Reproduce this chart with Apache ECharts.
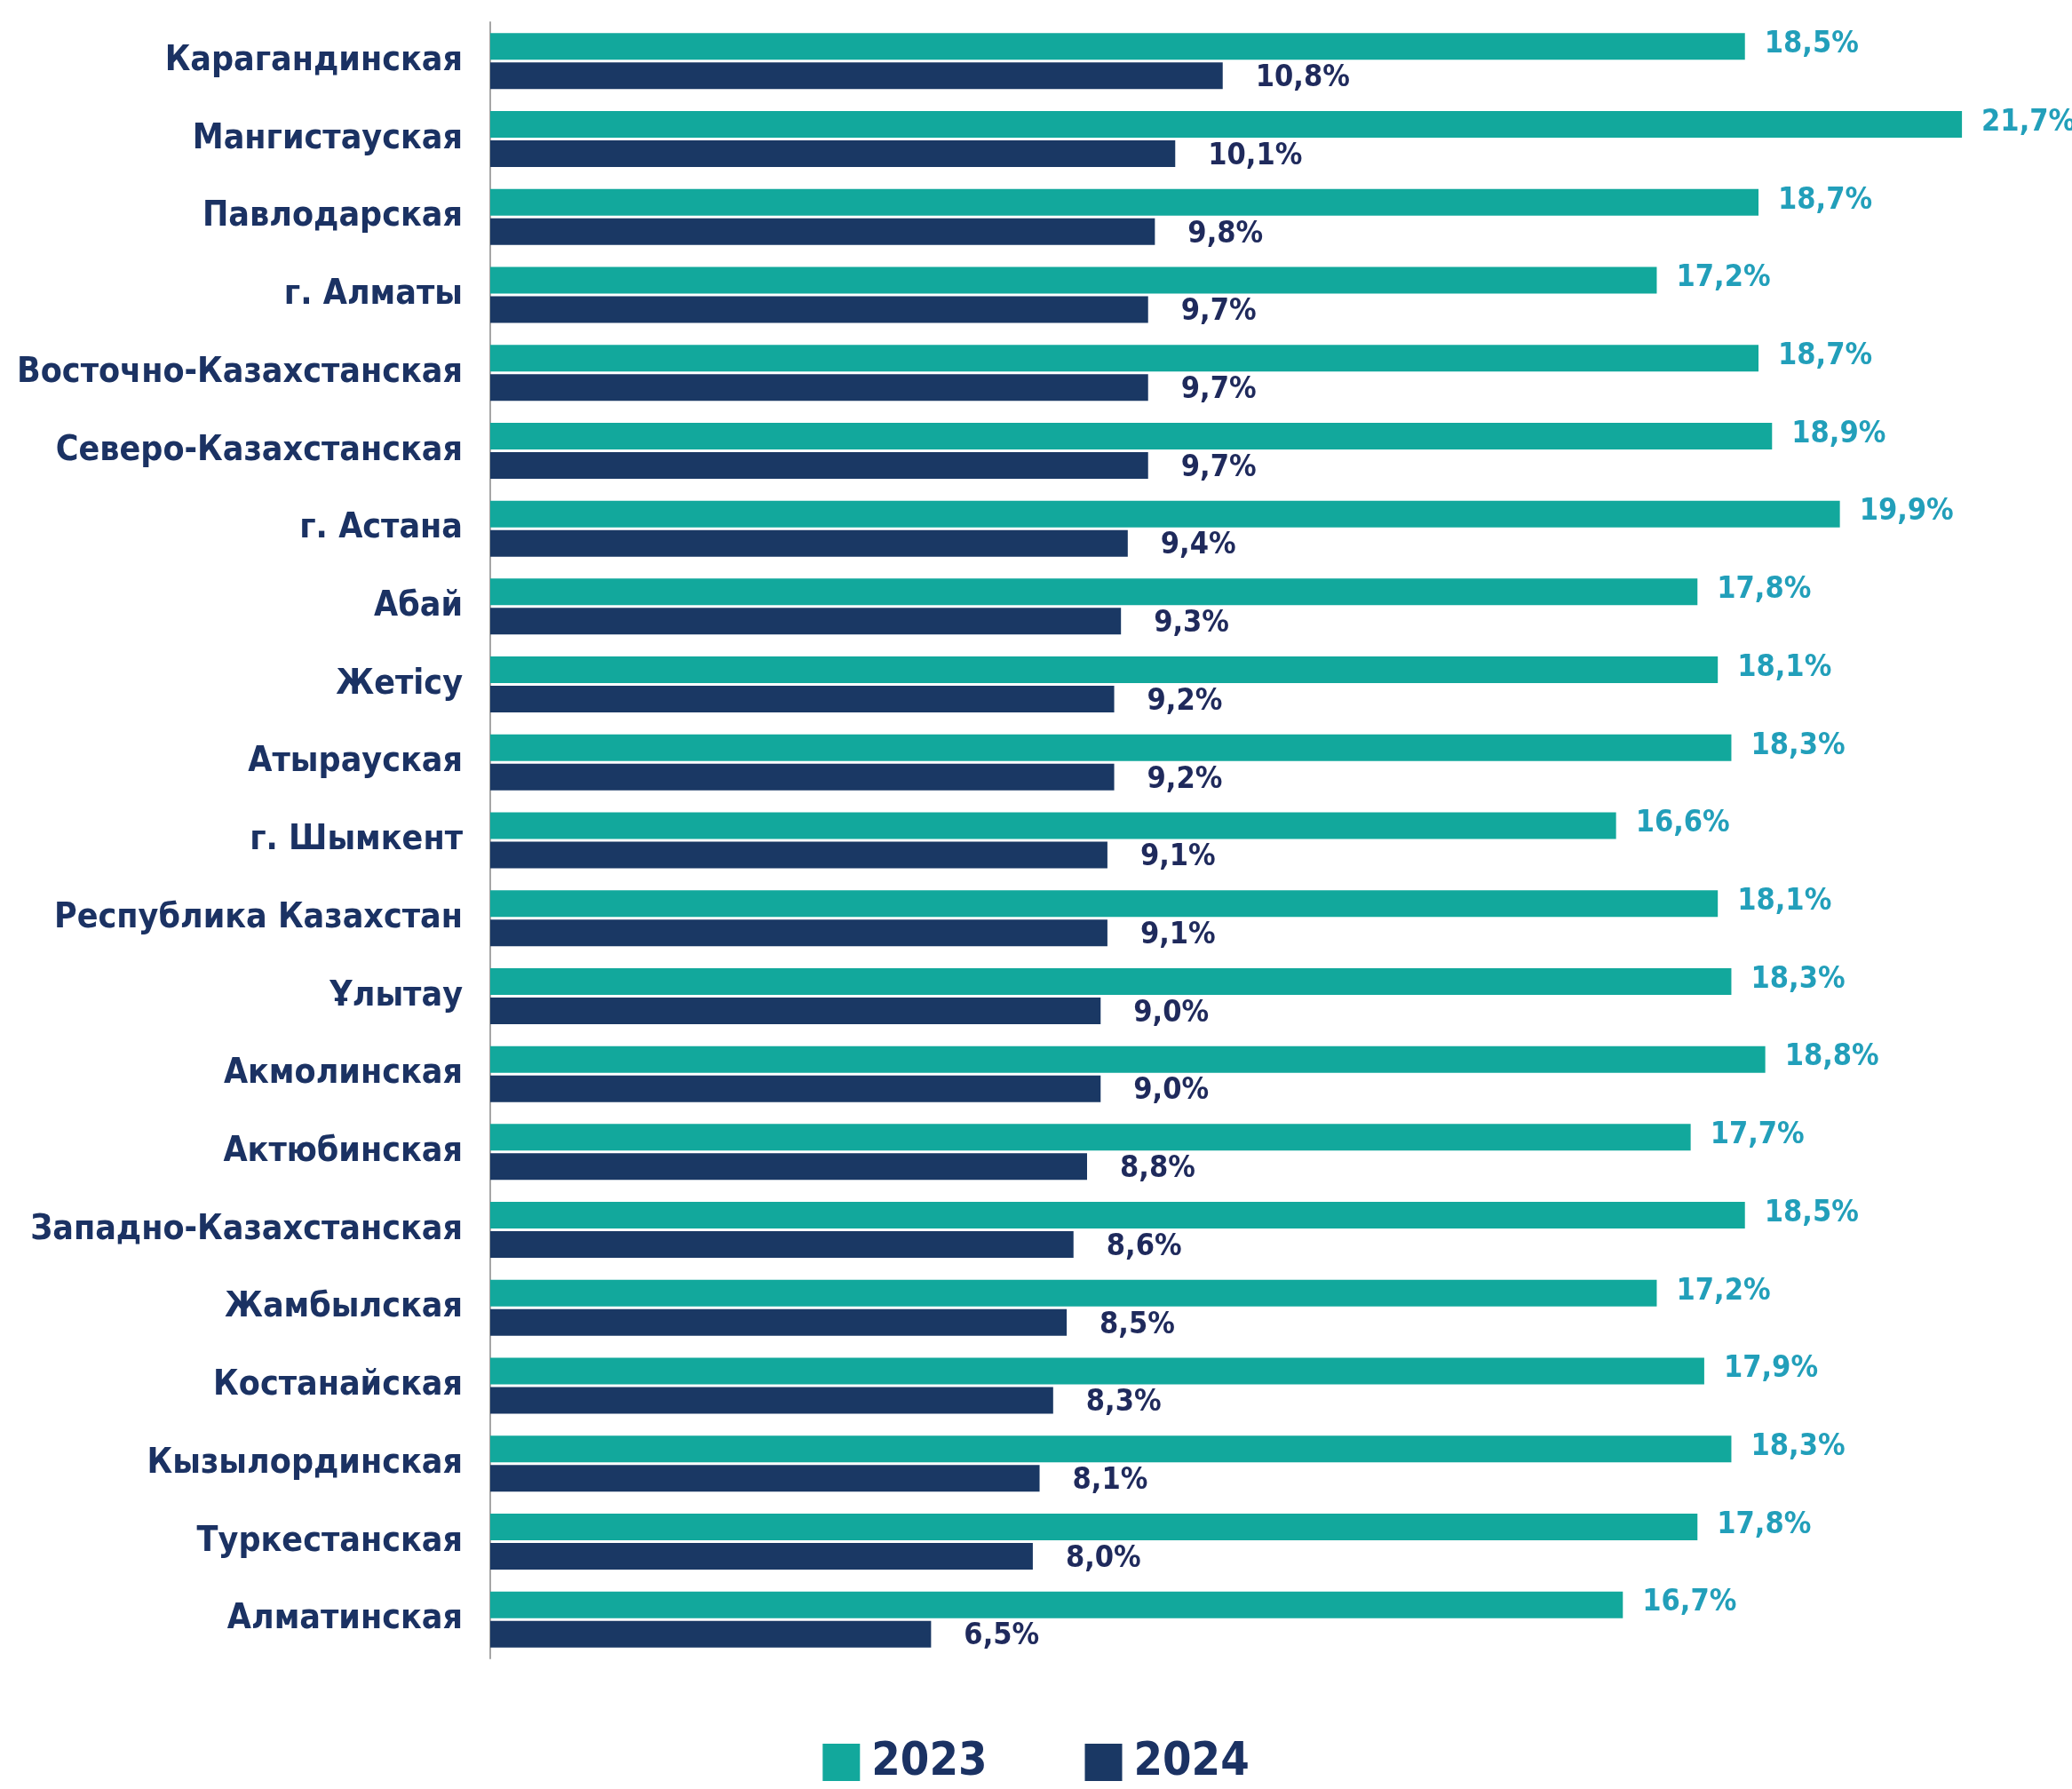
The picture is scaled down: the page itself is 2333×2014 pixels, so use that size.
<!DOCTYPE html>
<html>
<head>
<meta charset="utf-8">
<script src="https://cdn.jsdelivr.net/npm/echarts@6/dist/echarts.min.js"></script>
<style>
  html, body { margin: 0; padding: 0; background: #fff; }
  #main { width: 2333px; height: 2014px; }
</style>
</head>
<body>
<div id="main"></div>
<script>
const regions = ['Карагандинская', 'Мангистауская', 'Павлодарская', 'г. Алматы', 'Восточно-Казахстанская',
  'Северо-Казахстанская', 'г. Астана', 'Абай', 'Жетісу', 'Атырауская', 'г. Шымкент', 'Республика Казахстан',
  'Ұлытау', 'Акмолинская', 'Актюбинская', 'Западно-Казахстанская', 'Жамбылская', 'Костанайская',
  'Кызылординская', 'Туркестанская', 'Алматинская']
const values2023 = [18.5, 21.7, 18.7, 17.2, 18.7, 18.9, 19.9, 17.8, 18.1, 18.3, 16.6, 18.1, 18.3, 18.8, 17.7, 18.5, 17.2, 17.9, 18.3, 17.8, 16.7]
const values2024 = [10.8, 10.1, 9.8, 9.7, 9.7, 9.7, 9.4, 9.3, 9.2, 9.2, 9.1, 9.1, 9.0, 9.0, 8.8, 8.6, 8.5, 8.3, 8.1, 8.0, 6.5]

const font = '"DejaVu Sans Condensed", "Liberation Sans Narrow", sans-serif'
const pct = (p) => p.value.toFixed(1).replace('.', ',') + '%'

let myChart = echarts.init(document.getElementById('main'))
let option = {
  animation: false,
  textStyle: { fontFamily: font },
  legend: {
    top: 1953,
    left: 'center',
    itemWidth: 42,
    itemHeight: 42,
    itemGap: 110,
    icon: 'rect',
    textStyle: { fontSize: 52, color: '#1b3263', fontFamily: font, fontWeight: 'bold', padding: [0, 0, 0, 8] },
    data: ['2023', '2024']
  },
  grid: { left: 552, top: 25, bottom: 147, right: 101, containLabel: false, outerBoundsMode: 'none' },
  xAxis: {
    type: 'value', min: 0, max: 22, show: false,
    splitLine: { show: false }
  },
  yAxis: {
    type: 'category', inverse: true, data: regions,
    axisLine: { show: true, lineStyle: { color: '#a6a6a6', width: 2 } },
    axisTick: { show: false },
    axisLabel: { fontSize: 39, fontWeight: 'bold', color: '#1b3263', margin: 31, fontFamily: font }
  },
  series: [
    {
      name: '2023', type: 'bar', data: values2023,
      barWidth: 30, barGap: '10%', barCategoryGap: '28%',
      itemStyle: { color: '#12a89c' },
      label: { show: true, position: 'right', distance: 22, formatter: pct, fontSize: 34, fontWeight: 'bold', color: '#229fba', fontFamily: font, offset: [0, -2] }
    },
    {
      name: '2024', type: 'bar', data: values2024,
      barWidth: 30,
      itemStyle: { color: '#1a3864' },
      label: { show: true, position: 'right', distance: 37, formatter: pct, fontSize: 34, fontWeight: 'bold', color: '#1f2a5c', fontFamily: font, offset: [0, 3] }
    }
  ]
}
myChart.setOption(option)
</script>
</body>
</html>
